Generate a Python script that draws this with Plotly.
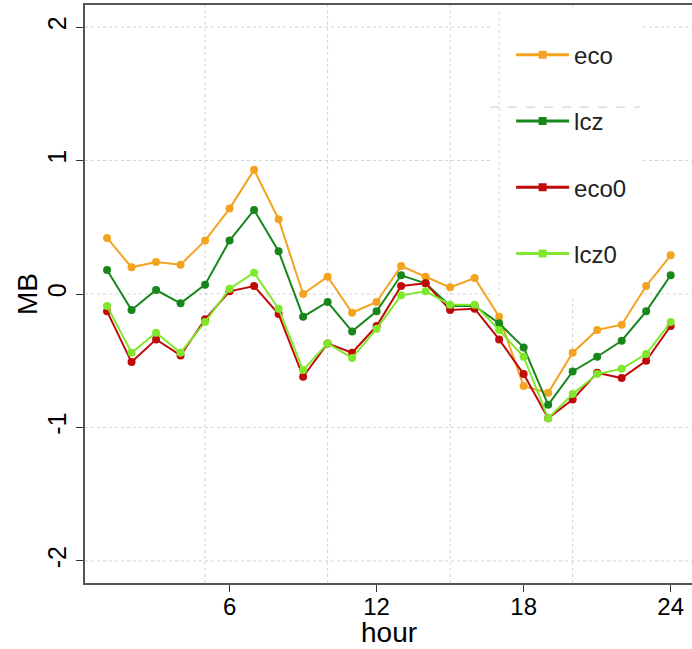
import plotly.graph_objects as go

hours = list(range(1, 25))
eco = [0.42, 0.20, 0.24, 0.22, 0.40, 0.64, 0.93, 0.56, 0.00, 0.13, -0.14, -0.06,
       0.21, 0.13, 0.05, 0.12, -0.17, -0.69, -0.74, -0.44, -0.27, -0.23, 0.06, 0.29]
lcz = [0.18, -0.12, 0.03, -0.07, 0.07, 0.40, 0.63, 0.32, -0.17, -0.06, -0.28, -0.13,
       0.14, 0.08, -0.09, -0.09, -0.22, -0.40, -0.83, -0.58, -0.47, -0.35, -0.13, 0.14]
eco0 = [-0.13, -0.51, -0.34, -0.46, -0.19, 0.02, 0.06, -0.15, -0.62, -0.37, -0.44, -0.24,
        0.06, 0.08, -0.12, -0.11, -0.34, -0.60, -0.93, -0.79, -0.59, -0.63, -0.50, -0.24]
lcz0 = [-0.09, -0.44, -0.29, -0.44, -0.21, 0.04, 0.16, -0.11, -0.57, -0.37, -0.48, -0.26,
        -0.01, 0.02, -0.08, -0.08, -0.27, -0.47, -0.93, -0.75, -0.60, -0.56, -0.45, -0.21]

series_names = ["eco", "lcz", "eco0", "lcz0"]
series_values = [eco, lcz, eco0, lcz0]
colors = ["#F2A31F", "#17871C", "#C00A0A", "#80E82C"]

x_ticks = [6, 12, 18, 24]
y_ticks = [-2, -1, 0, 1, 2]
x_grid = [5, 10, 15, 20]

FONT = "Liberation Sans, Arial, sans-serif"
XR = [0.1, 24.87]
YR = [-2.165, 2.165]

fig = go.Figure()

for name, vals, col in zip(series_names, series_values, colors):
    fig.add_trace(go.Scatter(
        x=hours, y=vals, mode="lines+markers", name=name,
        line=dict(color=col, width=2),
        marker=dict(color=col, size=8, symbol="circle"),
        showlegend=False,
    ))

for name, col in zip(series_names, colors):
    fig.add_trace(go.Scatter(
        x=[None], y=[None], mode="lines+markers", name=name,
        line=dict(color=col, width=3),
        marker=dict(color=col, size=8, symbol="square"),
        legendgroup=name, showlegend=True,
    ))

shapes = []
grid_style = dict(color="#D3D3D3", width=1, dash="dot")
for g in x_grid:
    shapes.append(dict(type="line", xref="x", yref="paper", x0=g, x1=g, y0=0, y1=1,
                       line=grid_style, layer="below"))
for g in y_ticks:
    shapes.append(dict(type="line", xref="paper", yref="y", x0=0, x1=1, y0=g, y1=g,
                       line=grid_style, layer="below"))
# legend background box
shapes.append(dict(type="rect", xref="x", yref="y", x0=16.63, x1=22.75, y0=-0.02, y1=2.14,
                   fillcolor="white", line=dict(width=0), layer="below"))
shapes.append(dict(type="line", xref="x", yref="y", x0=17.0, x1=17.0, y0=-0.02, y1=2.13,
                   line=grid_style, layer="below"))
shapes.append(dict(type="line", xref="x", yref="y", x0=16.63, x1=22.75, y0=1.40, y1=1.40,
                   line=dict(color="#C8C8C8", width=1, dash="dash"), layer="below"))

fig.update_layout(
    shapes=shapes,
    width=692, height=649,
    margin=dict(l=85, r=0, t=5, b=66),
    paper_bgcolor="white", plot_bgcolor="white",
    font=dict(family=FONT, color="black"),
    showlegend=True,
    legend=dict(
        x=0.702, y=0.952, xanchor="left", yanchor="top",
        bgcolor="rgba(0,0,0,0)", borderwidth=0,
        font=dict(size=24, family=FONT, color="#222222"),
        tracegroupgap=32, itemwidth=53,
    ),
    xaxis=dict(
        range=XR, tickvals=x_ticks, ticktext=[str(t) for t in x_ticks],
        showgrid=False, zeroline=False, automargin=False,
        showline=True, linecolor="#555555", linewidth=1.5, mirror=True,
        ticks="outside", ticklen=7, tickcolor="#333333",
        tickfont=dict(size=24, family=FONT), ticklabelstandoff=-6,
    ),
    yaxis=dict(
        range=YR, tickvals=y_ticks, ticktext=[str(t) for t in y_ticks],
        showgrid=False, zeroline=False, automargin=False,
        showline=True, linecolor="#555555", linewidth=1.5, mirror=False,
        ticks="outside", ticklen=7, tickcolor="#333333", tickangle=-90,
        tickfont=dict(size=25, family=FONT),
    ),
    annotations=[
        dict(text="hour", xref="paper", yref="paper", x=0.5, y=0,
             xanchor="center", yanchor="middle", yshift=-49, showarrow=False,
             font=dict(size=28, family=FONT)),
        dict(text="MB", xref="paper", yref="y", x=0, y=0,
             xanchor="center", yanchor="middle", xshift=-58, textangle=-90,
             showarrow=False, font=dict(size=28, family=FONT)),
    ],
)

fig.write_html("out.html", config={"displayModeBar": False},
               post_script="document.body.style.margin='0px';")
